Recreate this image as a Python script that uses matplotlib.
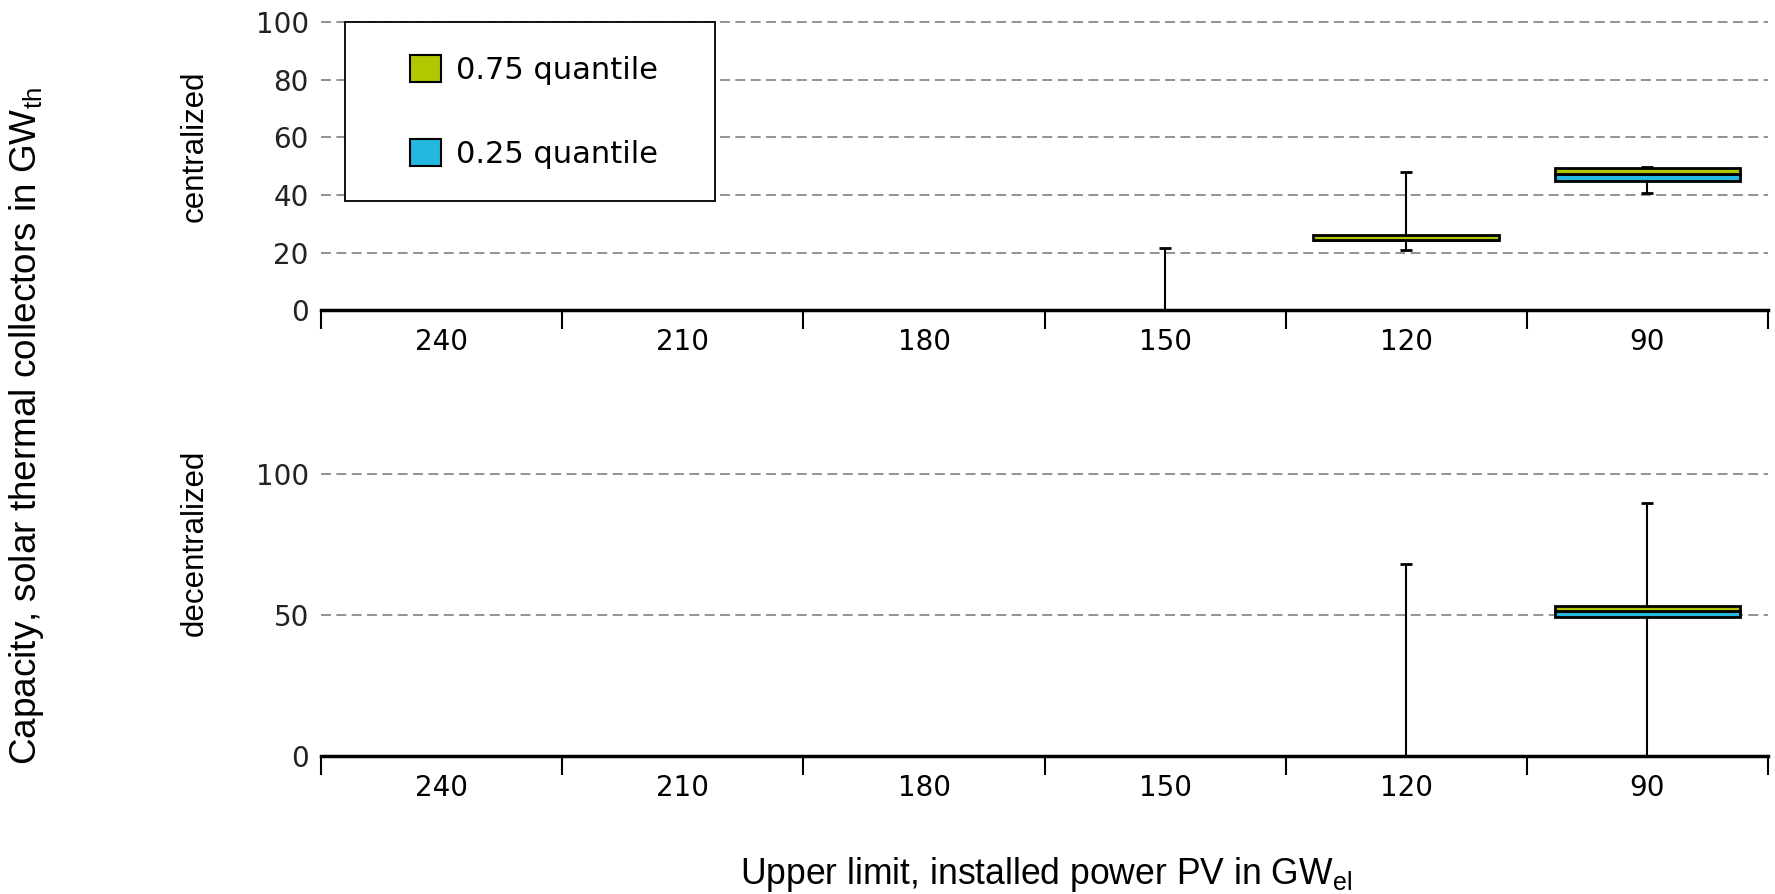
import matplotlib
matplotlib.use('Agg')
import matplotlib.pyplot as plt
from matplotlib.patches import Patch, Rectangle
import numpy as np

categories = ['240', '210', '180', '150', '120', '90']

# centralized (GW_th)
cen_min = [0, 0, 0, 0, 20.9, 40.8]
cen_q1 = [0, 0, 0, 0, 24.4, 45.0]
cen_med = [0, 0, 0, 0, 24.5, 47.3]
cen_q3 = [0, 0, 0, 0, 26.1, 49.4]
cen_max = [0, 0, 0, 21.5, 48.1, 49.9]

# decentralized (GW_th)
dec_min = [0, 0, 0, 0, 0, 0]
dec_q1 = [0, 0, 0, 0, 0, 49.4]
dec_med = [0, 0, 0, 0, 0, 51.3]
dec_q3 = [0, 0, 0, 0, 0, 53.2]
dec_max = [0, 0, 0, 0, 68.2, 89.5]

green = '#b1c800'
blue = '#22b8e0'
label_font = ['Liberation Sans Narrow', 'Liberation Sans', 'DejaVu Sans']

fig = plt.figure(figsize=(17.75, 8.94), dpi=100)
ax1 = fig.add_axes([0.181, 0.653, 0.815, 0.322])
ax2 = fig.add_axes([0.181, 0.154, 0.815, 0.316])

x = np.arange(len(categories))


def draw_boxes(ax, vmin, q1, med, q3, vmax, yticks):
    q1 = np.array(q1); med = np.array(med); q3 = np.array(q3)
    ax.bar(x, med - q1, bottom=q1, width=0.77, color=blue, edgecolor='black', linewidth=2, zorder=3)
    ax.bar(x, q3 - med, bottom=med, width=0.77, color=green, edgecolor='black', linewidth=2, zorder=3)
    ax.vlines(x, q3, vmax, color='black', linewidth=1.5, zorder=2)
    ax.vlines(x, vmin, q1, color='black', linewidth=1.5, zorder=2)
    ax.hlines(vmax, x - 0.025, x + 0.025, color='black', linewidth=2, zorder=2)
    ax.hlines(vmin, x - 0.025, x + 0.025, color='black', linewidth=2, zorder=2)

    ax.set_xlim(-0.5, len(categories) - 0.5)
    ax.set_ylim(0, 100)
    ax.set_yticks(yticks)
    ax.grid(axis='y', linestyle=(0, (5.5, 3)), color='#8a8a8a', linewidth=1.3)
    for gl in ax.get_ygridlines():
        gl.set_clip_on(False)
    ax.set_axisbelow(True)
    for s in ['top', 'right', 'left']:
        ax.spines[s].set_visible(False)
    ax.spines['bottom'].set_linewidth(2.5)
    ax.spines['bottom'].set_zorder(4)
    ax.tick_params(axis='y', length=0, pad=9, labelsize=20, labelcolor='#222222')

    # boundaries get the tick marks, centres get the labels
    ax.set_xticks(np.arange(-0.5, len(categories)), labels=[])
    ax.set_xticks(x, labels=categories, minor=True)
    ax.tick_params(axis='x', which='major', length=14, width=1.5, direction='out')
    ax.tick_params(axis='x', which='minor', length=0, pad=13, labelsize=20)


draw_boxes(ax1, cen_min, cen_q1, cen_med, cen_q3, cen_max, [0, 20, 40, 60, 80, 100])
draw_boxes(ax2, dec_min, dec_q1, dec_med, dec_q3, dec_max, [0, 50, 100])

ax1.set_ylabel('centralized', fontsize=22.5, family=label_font)
ax1.yaxis.set_label_coords(-0.077, 0.57)
ax2.set_ylabel('decentralized', fontsize=22.5, family=label_font)
ax2.yaxis.set_label_coords(-0.077, 0.755)
ax2.set_xlabel('Upper limit, installed power PV in GW$_{\\mathregular{el}}$', fontsize=25.6,
               family=label_font)
ax2.xaxis.set_label_coords(0.501, -0.35)
fig.text(0.004, 0.523, 'Capacity, solar thermal collectors in GW$_{\\mathregular{th}}$', rotation=90,
         fontsize=26.6, family=label_font, ha='left', va='center')

# legend frame drawn separately so the padding matches
ax1.add_patch(Rectangle((345 / 1775, 1 - 201 / 894), 370 / 1775, 179 / 894,
                        transform=fig.transFigure, facecolor='white', edgecolor='black',
                        linewidth=1.3, zorder=5, clip_on=False))
handles = [Patch(facecolor=green, edgecolor='black', linewidth=1.5, label='0.75 quantile'),
           Patch(facecolor=blue, edgecolor='black', linewidth=1.5, label='0.25 quantile')]
leg = ax1.legend(handles=handles, loc='upper left', bbox_to_anchor=(410 / 1775, 1 - 55 / 894),
                 bbox_transform=fig.transFigure, borderaxespad=0, borderpad=0, fontsize=22,
                 frameon=False, handlelength=1.0, handleheight=1.0, handletextpad=0.5,
                 labelspacing=1.75)
leg.set_zorder(6)

fig.savefig('out.png', dpi=100)
